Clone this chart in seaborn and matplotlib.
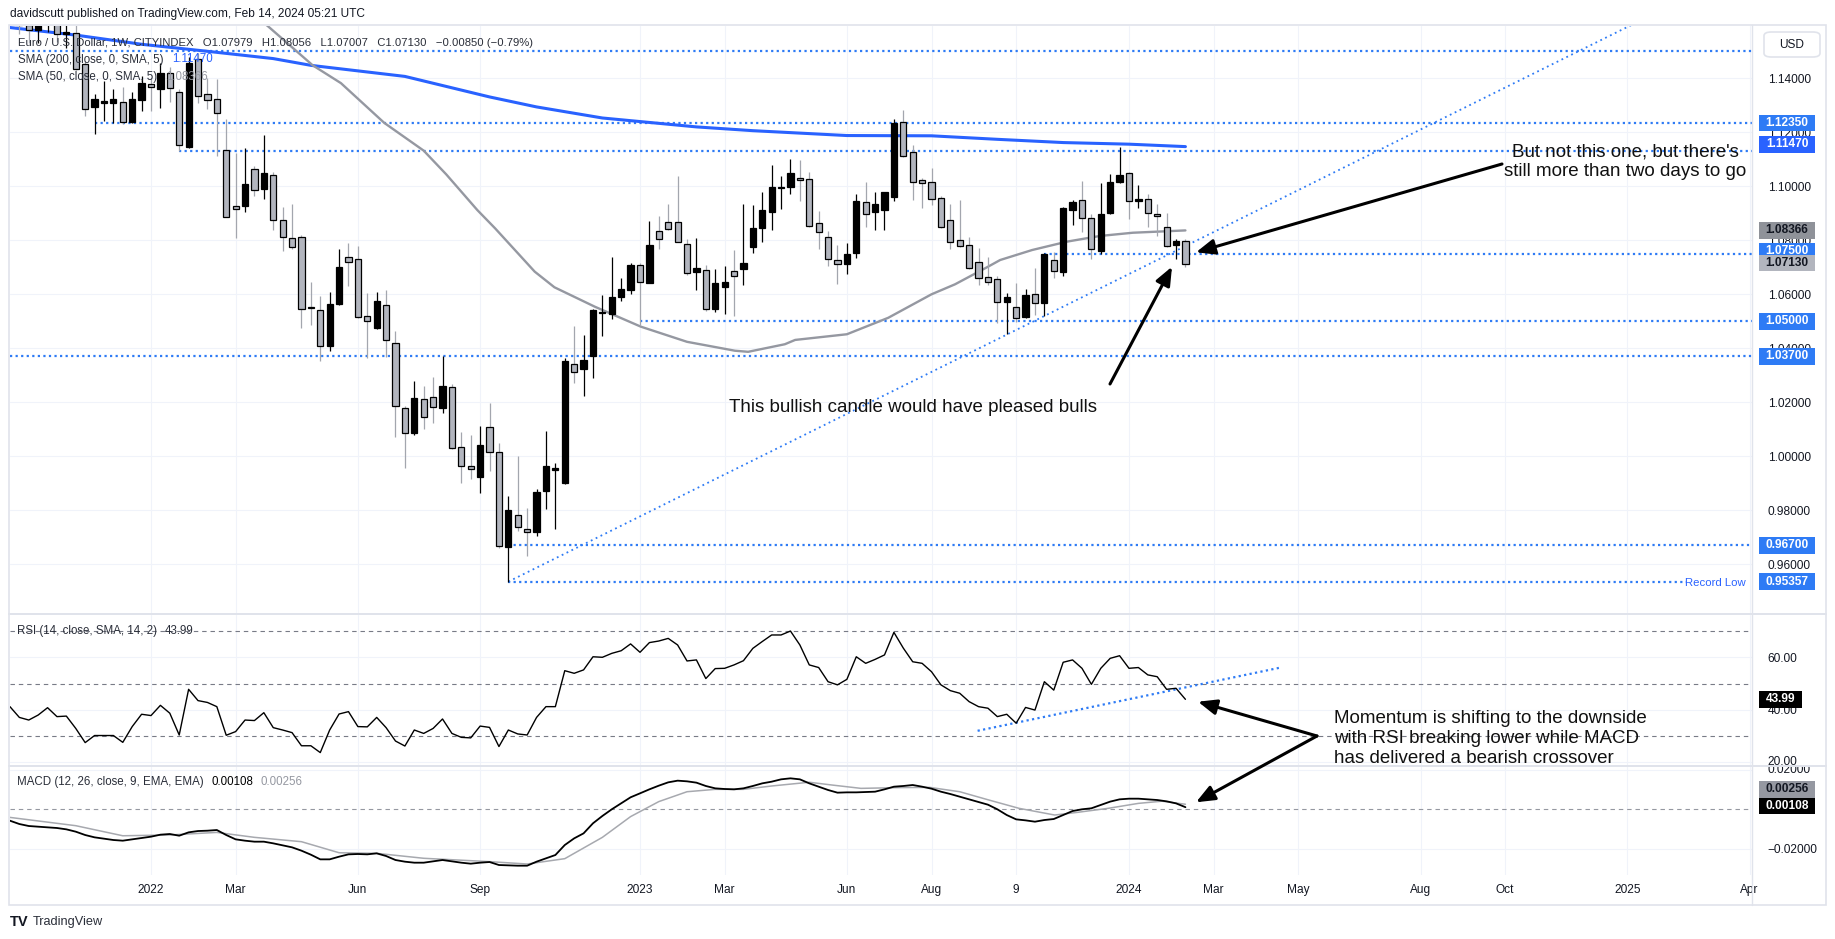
import matplotlib
matplotlib.use("Agg")
import matplotlib.pyplot as plt
import seaborn as sns
import numpy as np
import pandas as pd
from matplotlib.patches import Rectangle, FancyBboxPatch, FancyArrowPatch
from matplotlib.lines import Line2D
from matplotlib import transforms

# ---------------- data (weeks counted from the week of 3 Jan 2022) ----------------
week = list(range(-14, 111))
open_ = [1.1720, 1.1596, 1.1579, 1.1601, 1.1645, 1.1563, 1.1567, 1.1452, 1.1295, 1.1307,
         1.1307, 1.1313, 1.1239, 1.1320, 1.1378, 1.1359, 1.1418, 1.1349, 1.1147, 1.1470,
         1.1343, 1.1322, 1.1133, 1.0926, 1.0926, 1.1063, 1.0989, 1.1040, 1.0876, 1.0807,
         1.0811, 1.0554, 1.0542, 1.0410, 1.0564, 1.0737, 1.0730, 1.0518, 1.0476, 1.0559,
         1.0418, 1.0178, 1.0085, 1.0211, 1.0218, 1.0178, 1.0255, 1.0036, 0.9965, 0.9922,
         1.0107, 1.0015, 0.9665, 0.9783, 0.9731, 0.9721, 0.9873, 0.9949, 0.9902, 1.0342,
         1.0323, 1.0372, 1.0532, 1.0527, 1.0591, 1.0616, 1.0708, 1.0643, 1.0834, 1.0869,
         1.0868, 1.0785, 1.0684, 1.0690, 1.0547, 1.0628, 1.0686, 1.0692, 1.0776, 1.0844,
         1.0906, 1.0993, 1.0996, 1.1029, 1.1026, 1.0863, 1.0811, 1.0726, 1.0714, 1.0752,
         1.0943, 1.0906, 1.0913, 1.0962, 1.1237, 1.1128, 1.1024, 1.1017, 1.0955, 1.0874,
         1.0800, 1.0781, 1.0718, 1.0663, 1.0657, 1.0570, 1.0552, 1.0515, 1.0601, 1.0569,
         1.0727, 1.0684, 1.0912, 1.0948, 1.0881, 1.0762, 1.0902, 1.1016, 1.1048, 1.0947,
         1.0952, 1.0896, 1.0848, 1.0781, 1.07979]
high = [1.1750, 1.1640, 1.1624, 1.1669, 1.1692, 1.1616, 1.1608, 1.1464, 1.1341, 1.1390,
        1.1362, 1.1368, 1.1349, 1.1409, 1.1402, 1.1458, 1.1443, 1.1359, 1.1480, 1.1495,
        1.1402, 1.1396, 1.1250, 1.1125, 1.1140, 1.1075, 1.1189, 1.1054, 1.0925, 1.0936,
        1.0820, 1.0646, 1.0594, 1.0608, 1.0767, 1.0789, 1.0779, 1.0604, 1.0608, 1.0616,
        1.0464, 1.0186, 1.0278, 1.0260, 1.0294, 1.0372, 1.0268, 1.0090, 1.0079, 1.0112,
        1.0199, 1.0050, 0.9853, 1.0001, 0.9807, 0.9878, 1.0094, 0.9976, 1.0363, 1.0484,
        1.0449, 1.0544, 1.0597, 1.0739, 1.0662, 1.0717, 1.0715, 1.0873, 1.0891, 1.0934,
        1.1039, 1.0804, 1.0808, 1.0708, 1.0694, 1.0705, 1.0764, 1.0934, 1.0931, 1.0980,
        1.1079, 1.1038, 1.1101, 1.1097, 1.1054, 1.0909, 1.0834, 1.0783, 1.0790, 1.0973,
        1.1015, 1.0980, 1.0978, 1.1249, 1.1283, 1.1153, 1.1030, 1.1066, 1.0964, 1.0936,
        1.0949, 1.0812, 1.0770, 1.0737, 1.0668, 1.0604, 1.0641, 1.0618, 1.0696, 1.0752,
        1.0758, 1.0924, 1.0949, 1.1020, 1.0896, 1.1011, 1.1046, 1.1144, 1.1052, 1.1005,
        1.0972, 1.0934, 1.0900, 1.0805, 1.08056]
low = [1.1563, 1.1529, 1.1532, 1.1571, 1.1535, 1.1513, 1.1432, 1.1260, 1.1192, 1.1242,
       1.1233, 1.1230, 1.1236, 1.1279, 1.1279, 1.1291, 1.1312, 1.1131, 1.1143, 1.1310,
       1.1287, 1.1112, 1.0885, 1.0810, 1.0906, 1.0964, 1.0952, 1.0837, 1.0762, 1.0766,
       1.0474, 1.0486, 1.0354, 1.0391, 1.0560, 1.0631, 1.0511, 1.0363, 1.0473, 1.0369,
       1.0073, 0.9955, 1.0079, 1.0100, 1.0125, 1.0162, 1.0028, 0.9902, 0.9915, 0.9865,
       0.9947, 0.9660, 0.95357, 0.9725, 0.9631, 0.9705, 0.9805, 0.9731, 0.9899, 1.0273,
       1.0225, 1.0291, 1.0447, 1.0510, 1.0575, 1.0601, 1.0487, 1.0640, 1.0768, 1.0838,
       1.0792, 1.0671, 1.0616, 1.0538, 1.0534, 1.0527, 1.0520, 1.0634, 1.0752, 1.0792,
       1.0837, 1.0916, 1.0970, 1.0946, 1.0850, 1.0767, 1.0706, 1.0639, 1.0674, 1.0736,
       1.0850, 1.0838, 1.0839, 1.0946, 1.1108, 1.0949, 1.0918, 1.0931, 1.0845, 1.0768,
       1.0776, 1.0695, 1.0634, 1.0634, 1.0492, 1.0452, 1.0499, 1.0512, 1.0523, 1.0520,
       1.0659, 1.0668, 1.0857, 1.0832, 1.0730, 1.0749, 1.0897, 1.1014, 1.0880, 1.0918,
       1.0851, 1.0816, 1.0776, 1.0730, 1.07007]
close = [1.1596, 1.1579, 1.1601, 1.1645, 1.1565, 1.1573, 1.1433, 1.1285, 1.1322, 1.1316,
         1.1322, 1.1239, 1.1322, 1.1381, 1.1366, 1.1418, 1.1363, 1.1152, 1.1458, 1.1334,
         1.1318, 1.1273, 1.0888, 1.0915, 1.1007, 1.0985, 1.1050, 1.0876, 1.0812, 1.0774,
         1.0544, 1.0548, 1.0410, 1.0563, 1.0700, 1.0718, 1.0517, 1.0500, 1.0575, 1.0430,
         1.0186, 1.0085, 1.0215, 1.0144, 1.0181, 1.0260, 1.0030, 0.9964, 0.9952, 1.0041,
         1.0015, 0.9668, 0.9801, 0.9737, 0.9721, 0.9869, 0.9964, 0.9955, 1.0354, 1.0313,
         1.0357, 1.0542, 1.0536, 1.0591, 1.0618, 1.0708, 1.0644, 1.0783, 1.0804, 1.0841,
         1.0795, 1.0678, 1.0697, 1.0544, 1.0641, 1.0644, 1.0669, 1.0715, 1.0844, 1.0912,
         1.0997, 1.0998, 1.1048, 1.1022, 1.0853, 1.0831, 1.0731, 1.0711, 1.0748, 1.0944,
         1.0896, 1.0934, 1.0978, 1.1233, 1.1112, 1.1017, 1.1011, 1.0952, 1.0848, 1.0795,
         1.0778, 1.0699, 1.0662, 1.0647, 1.0570, 1.0591, 1.0511, 1.0597, 1.0567, 1.0749,
         1.0688, 1.0920, 1.0941, 1.0884, 1.0767, 1.0896, 1.1016, 1.1040, 1.0944, 1.0952,
         1.0900, 1.0889, 1.0780, 1.07979, 1.07130]

sma200_w = [-15, -8, -1, 6, 13, 17, 27, 36, 41, 48, 58, 64, 74, 83, 90, 97, 104, 110]
sma200 = [1.1588, 1.1560, 1.1526, 1.1500, 1.1473, 1.1448, 1.1407, 1.1331, 1.1294, 1.1253,
          1.1220, 1.1206, 1.1188, 1.1187, 1.1174, 1.1162, 1.1156, 1.1147]
sma50_w = [10, 12.4, 17.2, 20.2, 24.8, 29, 31.4, 34.7, 36.6, 40.8, 42.9, 47.2, 52.1, 57,
           62.1, 63.5, 67.4, 68.5, 74, 78.4, 83, 85.5, 89, 90.3, 93.7, 97.4, 100.9, 104.4, 110]
sma50 = [1.1660, 1.1594, 1.1448, 1.1382, 1.1235, 1.1132, 1.1044, 1.0912, 1.0844, 1.0684,
         1.0626, 1.0554, 1.0480, 1.0424, 1.0391, 1.0387, 1.0415, 1.0431, 1.0452, 1.0513,
         1.0600, 1.0637, 1.0702, 1.0727, 1.0764, 1.0795, 1.0816, 1.0828, 1.08366]

ind_w = list(range(-15, 111))
rsi = [41.2, 37.1, 36.1, 38.0, 40.8, 37.4, 37.6, 32.9, 27.5, 30.2,
       30.2, 30.2, 27.6, 33.6, 38.3, 37.8, 41.7, 38.7, 30.4, 47.8,
       43.5, 42.8, 41.2, 30.3, 31.7, 36.1, 35.9, 38.9, 33.2, 32.3,
       31.3, 26.3, 26.3, 23.7, 32.3, 38.4, 39.3, 33.6, 33.5, 37.1,
       33.2, 28.1, 26.2, 32.3, 31.0, 32.9, 36.5, 31.0, 29.5, 29.3,
       33.8, 33.3, 26.0, 32.3, 30.8, 30.4, 37.1, 41.2, 41.2, 54.9,
       53.9, 55.2, 60.2, 60.0, 61.5, 62.5, 65.1, 61.9, 65.6, 66.2,
       67.2, 64.7, 58.6, 59.0, 51.9, 55.7, 55.8, 57.1, 58.7, 63.4,
       66.0, 68.5, 68.5, 70.0, 64.7, 57.1, 56.1, 50.7, 49.5, 51.6,
       60.2, 57.7, 59.2, 60.9, 69.5, 63.5, 58.3, 57.7, 54.5, 49.5,
       47.3, 46.3, 43.1, 41.2, 40.6, 37.4, 38.3, 34.9, 40.9, 39.9,
       50.7, 47.5, 58.1, 59.0, 55.8, 49.7, 55.8, 59.6, 60.6, 55.8,
       56.1, 53.3, 52.6, 47.8, 48.2, 43.99]
macd = [-0.00577, -0.00745, -0.00846, -0.00880, -0.00914, -0.00947, -0.01015, -0.01133, -0.01302, -0.01420,
        -0.01487, -0.01555, -0.01589, -0.01521, -0.01454, -0.01386, -0.01285, -0.01251, -0.01336, -0.01167,
        -0.01100, -0.01083, -0.01049, -0.01302, -0.01521, -0.01589, -0.01639, -0.01639, -0.01724, -0.01825,
        -0.01926, -0.02095, -0.02298, -0.02534, -0.02534, -0.02399, -0.02281, -0.02264, -0.02281, -0.02230,
        -0.02365, -0.02568, -0.02652, -0.02703, -0.02703, -0.02635, -0.02568, -0.02635, -0.02703, -0.02753,
        -0.02703, -0.02669, -0.02821, -0.02838, -0.02855, -0.02855, -0.02652, -0.02483, -0.02315, -0.01809,
        -0.01471, -0.01218, -0.00709, -0.00338, 0.00000, 0.00304, 0.00608, 0.00808, 0.01011, 0.01197,
        0.01365, 0.01450, 0.01416, 0.01349, 0.01180, 0.01061, 0.01028, 0.01011, 0.01061, 0.01180,
        0.01314, 0.01399, 0.01517, 0.01568, 0.01517, 0.01314, 0.01145, 0.00977, 0.00842, 0.00858,
        0.00858, 0.00875, 0.00892, 0.01011, 0.01145, 0.01180, 0.01230, 0.01145, 0.01044, 0.00892,
        0.00774, 0.00639, 0.00504, 0.00369, 0.00234, 0.00000, -0.00290, -0.00509, -0.00560, -0.00627,
        -0.00543, -0.00492, -0.00290, -0.00087, 0.00000, 0.00051, 0.00220, 0.00389, 0.00504, 0.00538,
        0.00538, 0.00504, 0.00470, 0.00403, 0.00301, 0.00108]
signal_w = [-15, -8, -3, 2, 7, 11, 16, 20, 24, 29, 36, 40, 44, 48, 51, 54, 57, 60, 63, 66,
            70, 72.4, 75.5, 79.7, 82.8, 86, 89.1, 92.3, 96.1, 98.6, 101.8, 105, 107.5, 110]
signal = [-0.0041, -0.0083, -0.0134, -0.0130, -0.0117, -0.0142, -0.0164, -0.0220, -0.0223, -0.0248,
          -0.0265, -0.0277, -0.0250, -0.0142, -0.0037, 0.0039, 0.0089, 0.0101, 0.0101, 0.0118,
          0.0137, 0.0123, 0.0106, 0.0110, 0.0111, 0.0089, 0.0047, 0.0005, -0.0029, -0.0015,
          0.0005, 0.0030, 0.0041, 0.00256]

hline_vals = [1.1500, 1.1235, 1.1130, 1.0750, 1.0500, 1.0370, 0.9670, 0.95357]
hline_start = [-15, -6, 3, 95, 52, -15, 38, 38]
trend_w = [38, 143.5]
trend_p = [0.95357, 1.1357]
rsi_trend_w = [87.9, 120.0]
rsi_trend_v = [32.0, 56.0]

time_ticks = [0, 9, 22, 35, 52, 61, 74, 83, 92, 104, 113, 122, 135, 144, 157, 170]
time_labels = ['2022', 'Mar', 'Jun', 'Sep', '2023', 'Mar', 'Jun', 'Aug', '9', '2024',
               'Mar', 'May', 'Aug', 'Oct', '2025', 'Apr']
price_ticks = [0.96, 0.98, 1.00, 1.02, 1.04, 1.06, 1.08, 1.10, 1.12, 1.14]
rsi_ticks = [20, 40, 60]
rsi_bands = [70, 50, 30]

axis_labels = [1.12350, 1.11470, 1.08366, 1.07500, 1.07130, 1.05000, 1.03700, 0.96700, 0.95357]
axis_label_kind = ['line', 'sma200', 'sma50', 'line', 'close', 'line', 'line', 'line', 'line']

# ---------------- style ----------------
sns.set_theme(style="white")
plt.rcParams['font.family'] = ['Liberation Sans', 'DejaVu Sans']

TXT = '#131722'
GRID = '#f0f3fa'
BORDER = '#e0e3eb'
LINE_BLUE = '#2e7bf5'
SMA_BLUE = '#2962ff'
SMA_GRAY = '#9598a1'
BEAR = '#b2b5be'
WICK_GRAY = '#a3a6ae'

W, H = 1835, 939
fig = plt.figure(figsize=(W / 100, H / 100), dpi=100, facecolor='white')


def fbox(x0, y0, x1, y1):
    return [x0 / W, 1 - y1 / H, (x1 - x0) / W, (y1 - y0) / H]


PL, PR = 10, 1752
ax_p = fig.add_axes(fbox(PL, 26, PR, 613))
ax_r = fig.add_axes(fbox(PL, 615, PR, 766))
ax_m = fig.add_axes(fbox(PL, 766, PR, 875))

XL = (-14.994, 170.25)
for ax in (ax_p, ax_r, ax_m):
    ax.set_xlim(*XL)
    ax.set_facecolor('none')
    for s in ax.spines.values():
        s.set_visible(False)
    ax.set_axisbelow(True)
    ax.set_xticks(time_ticks)
    ax.grid(True, color=GRID, lw=0.8)
    ax.yaxis.tick_right()
    ax.tick_params(axis='x', length=0, labelbottom=False)
    ax.tick_params(axis='y', length=0, pad=11.3, labelsize=8.6, labelcolor=TXT)

ax_m.tick_params(axis='x', labelbottom=True, pad=6.5, labelsize=8.6, labelcolor=TXT)
ax_m.set_xticklabels(time_labels)

ax_p.set_ylim(0.94196, 1.15937)
ax_p.set_yticks(price_ticks)
ax_p.set_yticklabels([f"{v:.5f}" for v in price_ticks])
ax_r.set_ylim(18.59, 76.11)
ax_r.set_yticks(rsi_ticks)
ax_r.set_yticklabels(['' if v == 20 else f"{v:.2f}" for v in rsi_ticks])
ax_m.set_ylim(-0.033266, 0.021924)
ax_m.set_yticks([-0.02, 0.02])
ax_m.set_yticklabels(['\u22120.02000', ''])

# ---------------- main panel ----------------
for v, s in zip(hline_vals, hline_start):
    e = 163.2 if v == hline_vals[-1] else XL[1]
    ax_p.plot([s, e], [v, v], color=LINE_BLUE, lw=1.6, linestyle=(0, (1, 1.5)), zorder=2)

slope = (trend_p[1] - trend_p[0]) / (trend_w[1] - trend_w[0])
tw = [trend_w[0], XL[1]]
ax_p.plot(tw, [trend_p[0], trend_p[0] + slope * (XL[1] - trend_w[0])],
          color=LINE_BLUE, lw=1.3, linestyle=(0, (1, 2)), zorder=2)

sns.lineplot(x=sma200_w, y=sma200, ax=ax_p, color=SMA_BLUE, linewidth=2.2,
             estimator=None, sort=False, zorder=3)
sns.lineplot(x=sma50_w, y=sma50, ax=ax_p, color=SMA_GRAY, linewidth=1.7,
             estimator=None, sort=False, zorder=3)

df = pd.DataFrame({'w': week, 'o': open_, 'h': high, 'l': low, 'c': close})
up = (df.c > df.o).values
body_lo = np.minimum(df.o, df.c)
body_h = np.maximum((df.c - df.o).abs(), 0.0004)
ax_p.vlines(df.w, df.l, df.h, colors=np.where(up, 'black', WICK_GRAY), lw=0.9, zorder=4)
ax_p.bar(df.w, body_h, bottom=body_lo, width=0.66, color=np.where(up, 'black', BEAR),
         edgecolor='black', linewidth=0.9, zorder=5)

# ---------------- RSI panel ----------------
for b in rsi_bands:
    ax_r.axhline(b, color='#787b86', lw=0.8, dashes=(4, 3.5), zorder=2)
sns.lineplot(x=ind_w, y=rsi, ax=ax_r, color='black', linewidth=1.0, estimator=None,
             sort=False, zorder=4)
ax_r.plot(rsi_trend_w, rsi_trend_v, color=LINE_BLUE, lw=1.6, linestyle=(0, (1, 1.5)), zorder=3)

# ---------------- MACD panel ----------------
ax_m.axhline(0, color='#9598a1', lw=0.8, dashes=(4, 3.5), zorder=2)
sns.lineplot(x=signal_w, y=signal, ax=ax_m, color='#a7a9af', linewidth=1.1,
             estimator=None, sort=False, zorder=3)
sns.lineplot(x=ind_w, y=macd, ax=ax_m, color='black', linewidth=1.3,
             estimator=None, sort=False, zorder=4)

# scale labels clipped by their pane edges
lab_x = 1 + 11.3 * 100 / 72 / (PR - PL)
clip_m = transforms.TransformedBbox(
    transforms.Bbox.from_extents(PR / W, 1 - 875 / H, 1826 / W, 1 - 767 / H), fig.transFigure)
t02 = ax_m.text(lab_x, 0.02, '0.02000',
                transform=transforms.blended_transform_factory(ax_m.transAxes, ax_m.transData),
                ha='left', va='center', fontsize=8.6, color=TXT, clip_on=True)
t02.set_clip_box(clip_m)
clip_r = transforms.TransformedBbox(
    transforms.Bbox.from_extents(PR / W, 1 - 765 / H, 1826 / W, 1 - 615 / H), fig.transFigure)
t20 = ax_r.text(lab_x, 20, '20.00',
                transform=transforms.blended_transform_factory(ax_r.transAxes, ax_r.transData),
                ha='left', va='center', fontsize=8.6, color=TXT, clip_on=True)
t20.set_clip_box(clip_r)

# ---------------- frame ----------------
fig.add_artist(Rectangle((9 / W, 1 - 905 / H), (1826 - 9) / W, (905 - 25) / H,
                         transform=fig.transFigure, fill=False, ec=BORDER, lw=1.2))
for yy in (614, 766):
    fig.add_artist(Line2D([9 / W, 1826 / W], [1 - yy / H] * 2, transform=fig.transFigure,
                          color=BORDER, lw=1.4))
fig.add_artist(Line2D([PR / W] * 2, [1 - 905 / H, 1 - 25 / H], transform=fig.transFigure,
                      color=BORDER, lw=1.0))


# ---------------- scale labels ----------------
def scale_box(ax, value, text, fc, tc, shift_px=0, x0=1759, wpx=56, hpx=16.5):
    ydisp = ax.transData.transform((0, value))[1] + shift_px
    yc = ydisp / H
    fig.add_artist(Rectangle((x0 / W, yc - hpx / 2 / H), wpx / W, hpx / H,
                             transform=fig.transFigure, fc=fc, ec='none', zorder=5))
    fig.text((x0 + wpx / 2) / W, yc, text, ha='center', va='center', fontsize=8.6,
             fontweight='bold', color=tc, zorder=6)


kind_style = {'line': (LINE_BLUE, 'white'), 'sma200': (SMA_BLUE, 'white'),
              'sma50': ('#8f9299', TXT), 'close': (BEAR, TXT)}
shifts = {1.11470: 2.2, 1.07500: 2.3, 1.07130: 0.8}
for v, k in zip(axis_labels, axis_label_kind):
    fc, tc = kind_style[k]
    scale_box(ax_p, v, f"{v:.5f}", fc, tc, shifts.get(v, 0))

scale_box(ax_r, rsi[-1], f"{rsi[-1]:.2f}", 'black', 'white', 0, wpx=43, hpx=17)
scale_box(ax_m, macd[-1], f"{macd[-1]:.5f}", 'black', 'white', 1.5)
scale_box(ax_m, macd[-1], f"{signal[-1]:.5f}", '#9598a1', TXT, 17.8)

fig.add_artist(FancyBboxPatch((1764 / W, 1 - 57 / H), 56 / W, 25 / H,
                              boxstyle='round,pad=0,rounding_size=0.004',
                              transform=fig.transFigure, fc='white', ec=BORDER, lw=1.2, zorder=5))
fig.text(1792 / W, 1 - 44.5 / H, 'USD', ha='center', va='center', fontsize=8.6, color=TXT, zorder=6)

fig.text(1746 / W, 1 - 582.6 / H, 'Record Low', ha='right', va='center', fontsize=8.2,
         color=SMA_BLUE)


# ---------------- legend / header texts ----------------
def ftxt(x, y, s, **kw):
    kw.setdefault('fontsize', 8.3)
    kw.setdefault('color', TXT)
    fig.text(x / W, 1 - y / H, s, ha='left', va='center', **kw)


ftxt(10, 14, 'davidscutt published on TradingView.com, Feb 14, 2024 05:21 UTC', fontsize=8.55)
ftxt(18, 42.5, 'Euro / U.S. Dollar, 1W, CITYINDEX   O1.07979   H1.08056   L1.07007   C1.07130   '
     '\u22120.00850 (\u22120.79%)', color='#2a2e39', fontsize=8.15)
ftxt(18, 59.5, 'SMA (200, close, 0, SMA, 5)', color='#2a2e39')
ftxt(172, 59.5, '1.11470', color=SMA_BLUE)
ftxt(18, 77, 'SMA (50, close, 0, SMA, 5)', color='#2a2e39')
ftxt(166, 77, '1.08366', color=SMA_GRAY)
ftxt(17, 631, 'RSI (14, close, SMA, 14, 2)', color='#2a2e39')
ftxt(165, 631, '43.99', color='#2a2e39')
ftxt(17, 782, 'MACD (12, 26, close, 9, EMA, EMA)', color='#2a2e39')
ftxt(211, 782, '0.00108', color='black')
ftxt(260, 782, '0.00256', color='#9598a1')

fig.text(10 / W, 1 - 922 / H, 'TV', ha='left', va='center', fontsize=10.5, fontweight='bold',
         color=TXT)
ftxt(33, 922, 'TradingView', fontsize=9.2, color='#2a2e39')

# ---------------- annotations ----------------
ANN = 13.5
ftxt(728.7, 408, 'This bullish candle would have pleased bulls', fontsize=ANN, color='#111111')
fig.text(1625 / W, 1 - 161.5 / H, "But not this one, but there's\nstill more than two days to go",
         ha='center', va='center', multialignment='center', fontsize=ANN, color='#111111',
         linespacing=1.22)
fig.text(1334 / W, 1 - 738.5 / H,
         'Momentum is shifting to the downside\nwith RSI breaking lower while MACD\n'
         'has delivered a bearish crossover',
         ha='left', va='center', fontsize=ANN, color='#111111', linespacing=1.2)


def arrow(tail, head):
    fig.add_artist(FancyArrowPatch((tail[0] / W, 1 - tail[1] / H), (head[0] / W, 1 - head[1] / H),
                                   transform=fig.transFigure,
                                   arrowstyle='-|>,head_length=0.8,head_width=0.33',
                                   mutation_scale=14, lw=2.2, color='black',
                                   shrinkA=0, shrinkB=0, zorder=7))


arrow((1110, 384), (1172, 266.7))
arrow((1502, 164), (1196, 252.3))
arrow((1317, 736), (1198, 701.7))
arrow((1317, 736), (1196, 802.3))

fig.savefig('out.png', dpi=100, facecolor='white')
